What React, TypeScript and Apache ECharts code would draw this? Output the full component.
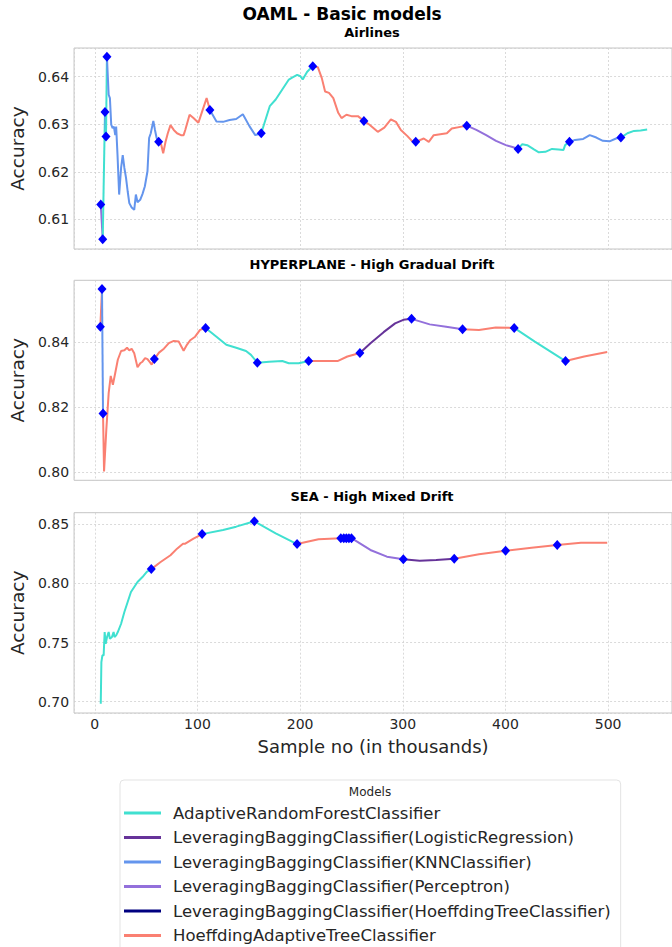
import React, { useEffect, useRef } from "react";
import * as echarts from "echarts";

const MODEL_NAMES = [
  "AdaptiveRandomForestClassifier",
  "LeveragingBaggingClassifier(LogisticRegression)",
  "LeveragingBaggingClassifier(KNNClassifier)",
  "LeveragingBaggingClassifier(Perceptron)",
  "LeveragingBaggingClassifier(HoeffdingTreeClassifier)",
  "HoeffdingAdaptiveTreeClassifier",
];
const MODEL_COLORS = ["#40E0D0", "#663399", "#6495ED", "#9370DB", "#000080", "#FA8072"];

const PANEL_TITLES = ["Airlines", "HYPERPLANE - High Gradual Drift", "SEA - High Mixed Drift"];

// ---- Airlines ----
const airlinesX = [
  5.8, 7.7, 9.9, 10.9, 11.8, 13.5, 14.7, 16.0, 17.3, 18.6, 19.9, 20.8, 22.1, 23.7, 25.6, 27.2, 28.8, 30.4,
  32.0, 33.6, 35.9, 38.4, 40.0, 41.6, 44.2, 46.4, 48.7, 51.3, 52.9, 54.5, 57.0, 58.6, 60.2, 62.2, 64.7,
  66.6, 68.9, 71.1, 73.7, 76.9, 80.1, 83.9, 86.5, 88.1, 92.3, 96.1, 100.9, 104.1, 108.9, 112.1, 118.5,
  124.9, 131.3, 137.7, 144.2, 150.6, 156.3, 159.0, 162.1, 170.4, 176.2, 182.6, 189.0, 192.2, 197.1, 200.3,
  202.5, 206.7, 209.8, 212.3, 217.2, 221.1, 224.3, 228.1, 232.3, 237.1, 240.3, 245.1, 249.9, 256.3, 262.1,
  267.6, 275.6, 282.0, 288.4, 293.3, 298.1, 304.5, 309.3, 312.6, 320.4, 325.3, 330.1, 342.9, 347.7, 357.3,
  362.3, 371.6, 381.2, 390.8, 400.4, 406.8, 412.3, 416.4, 421.2, 427.7, 432.5, 438.9, 445.3, 451.7, 456.5,
  458.1, 462.3, 467.7, 475.7, 482.1, 488.5, 494.9, 501.3, 507.7, 512.4, 518.8, 525.2, 531.6, 538.0,
];
const airlinesY = [
  0.6131, 0.6058, 0.6326, 0.6274, 0.6442, 0.6362, 0.6355, 0.6299, 0.6292, 0.6295, 0.6277, 0.6295, 0.6236,
  0.6152, 0.6208, 0.6235, 0.6208, 0.6187, 0.6159, 0.6134, 0.6125, 0.612, 0.6152, 0.6136, 0.6141, 0.6153,
  0.6169, 0.6201, 0.6271, 0.6281, 0.6307, 0.6288, 0.6271, 0.6263, 0.6257, 0.6239, 0.6263, 0.6281, 0.6298,
  0.6288, 0.6281, 0.6277, 0.6277, 0.6288, 0.632, 0.6313, 0.6303, 0.6324, 0.6355, 0.633, 0.6306, 0.6305,
  0.6309, 0.6311, 0.6321, 0.6296, 0.6277, 0.6279, 0.6281, 0.6338, 0.6352, 0.6373, 0.6394, 0.6398, 0.6404,
  0.6401, 0.6394, 0.641, 0.6417, 0.6422, 0.642, 0.6397, 0.6369, 0.6366, 0.6355, 0.6324, 0.6313, 0.632,
  0.6317, 0.6317, 0.6307, 0.6299, 0.6284, 0.6293, 0.631, 0.6305, 0.6288, 0.6275, 0.6264, 0.6263, 0.627,
  0.6263, 0.6277, 0.6281, 0.6291, 0.6295, 0.6297, 0.6288, 0.6277, 0.6265, 0.6256, 0.6252, 0.6248, 0.6258,
  0.6256, 0.6247, 0.6241, 0.6242, 0.6248, 0.6247, 0.6246, 0.6256, 0.6263, 0.6267, 0.6269, 0.6277, 0.6272,
  0.6265, 0.6264, 0.627, 0.6272, 0.6281, 0.6286, 0.6287, 0.6289,
];
const airlinesSwitchX = [5.8, 7.7, 9.9, 10.9, 11.8, 62.2, 112.1, 162.1, 212.3, 262.1, 312.6, 362.3, 412.3, 462.3, 512.4];
const airlinesSwitchModel = [3, 0, 2, 0, 2, 5, 2, 0, 5, 5, 5, 3, 0, 2, 0];
const airlinesMarkX = [5.8, 7.7, 9.9, 10.9, 11.8, 62.2, 112.1, 162.1, 212.3, 262.1, 312.6, 362.3, 412.3, 462.3, 512.4];

// ---- HYPERPLANE ----
const hyperX = [
  5.4, 7.0, 8.0, 9.0, 11.2, 13.5, 15.5, 17.6, 19.9, 22.4, 25.6, 28.8, 31.4, 33.6, 35.9, 38.4, 41.6, 44.2,
  46.4, 49.0, 51.3, 53.8, 55.4, 58.0, 62.5, 67.3, 72.1, 76.9, 81.7, 86.5, 89.7, 92.9, 97.7, 102.5, 107.9,
  118.5, 128.1, 137.7, 147.3, 152.1, 158.3, 169.8, 182.6, 189.0, 198.6, 208.3, 221.1, 236.4, 246.0, 258.2,
  268.5, 281.3, 292.5, 300.5, 308.5, 326.2, 342.2, 358.2, 374.2, 390.5, 408.5, 428.6, 458.5, 476.7, 499.1,
];
const hyperY = [
  0.8448, 0.8564, 0.818, 0.8002, 0.813, 0.8243, 0.8296, 0.8269, 0.8305, 0.8346, 0.8373, 0.8375, 0.8383,
  0.8375, 0.838, 0.8366, 0.8323, 0.8335, 0.834, 0.8351, 0.8348, 0.8338, 0.8331, 0.8348, 0.8368, 0.838,
  0.8397, 0.8404, 0.8402, 0.8374, 0.8392, 0.8406, 0.8417, 0.8438, 0.8444, 0.8417, 0.8392, 0.8383, 0.8373,
  0.8361, 0.8337, 0.834, 0.8342, 0.8335, 0.8335, 0.8342, 0.8342, 0.8342, 0.8356, 0.8367, 0.8397, 0.8431,
  0.8458, 0.8469, 0.8472, 0.8455, 0.8448, 0.844, 0.8438, 0.8445, 0.8444, 0.8402, 0.8342, 0.8356, 0.837,
];
const hyperSwitchX = [5.4, 7.0, 8.0, 58.0, 107.9, 158.3, 208.3, 258.2, 308.5, 358.2, 408.5, 458.5];
const hyperSwitchModel = [5, 2, 5, 5, 0, 0, 5, 1, 3, 5, 0, 5];
const hyperMarkX = [5.4, 7.0, 8.0, 58.0, 107.9, 158.3, 208.3, 258.2, 308.5, 358.2, 408.5, 458.5];

// ---- SEA ----
const seaX = [
  5.8, 6.4, 7.4, 8.6, 9.6, 10.6, 11.9, 13.5, 14.7, 16.7, 18.3, 19.2, 20.8, 22.4, 25.6, 28.8, 32.0, 35.2,
  38.4, 41.6, 46.4, 50.6, 55.0, 64.1, 73.7, 80.1, 85.9, 88.1, 96.1, 104.5, 124.9, 137.7, 155.4, 176.2,
  197.0, 217.9, 239.6, 242.5, 245.0, 247.5, 250.0, 268.4, 284.5, 300.5, 316.5, 332.5, 350.1, 374.2, 400.1,
  425.4, 450.4, 473.5, 499.1,
];
const seaY = [
  0.6982, 0.7335, 0.7392, 0.7392, 0.7589, 0.749, 0.7547, 0.7589, 0.7532, 0.7547, 0.7589, 0.7547, 0.7561,
  0.7589, 0.7659, 0.7758, 0.7843, 0.7927, 0.797, 0.8012, 0.8054, 0.8097, 0.8121, 0.8181, 0.8238, 0.8294,
  0.8336, 0.8336, 0.8378, 0.8417, 0.8452, 0.848, 0.8525, 0.8424, 0.8333, 0.8373, 0.8382, 0.8382, 0.8383,
  0.8383, 0.8383, 0.8283, 0.8226, 0.8204, 0.8192, 0.8198, 0.8209, 0.8246, 0.8277, 0.8302, 0.8325, 0.8344,
  0.8344,
];
const seaSwitchX = [5.8, 55.0, 104.5, 155.4, 197.0, 239.6, 242.5, 245.0, 247.5, 250.0, 300.5, 350.1, 400.1, 450.4];
const seaSwitchModel = [0, 5, 0, 0, 5, 0, 5, 0, 5, 3, 1, 5, 5, 5];
const seaMarkX = [55.0, 104.5, 155.4, 197.0, 239.6, 242.5, 245.0, 247.5, 250.0, 300.5, 350.1, 400.1, 450.4];

const PANELS = [
  { xs: airlinesX, ys: airlinesY, sw: airlinesSwitchX, sm: airlinesSwitchModel, mk: airlinesMarkX },
  { xs: hyperX, ys: hyperY, sw: hyperSwitchX, sm: hyperSwitchModel, mk: hyperMarkX },
  { xs: seaX, ys: seaY, sw: seaSwitchX, sm: seaSwitchModel, mk: seaMarkX },
];

const FONT = "DejaVu Sans";

export default function App() {
  const ref = useRef<HTMLDivElement>(null);
  useEffect(() => {
    if (!ref.current) return;
    const chart = echarts.init(ref.current, undefined, { renderer: "svg" });

    const gridTops = [48, 280.3, 512.7];
    const gridHeights = [201, 200, 200.3];
    const yRanges = [
      [0.60375, 0.64604, 0.01],
      [0.79745, 0.85908, 0.02],
      [0.69044, 0.8598, 0.05],
    ];
    const xMin = -20.2;
    const xMax = 562.2;

    const grids = gridTops.map((t, i) => ({
      left: 69,
      top: t,
      width: 606,
      height: gridHeights[i],
      show: true,
      borderColor: "#c4c4c4",
      borderWidth: 1,
      backgroundColor: "#ffffff",
    }));

    const xAxes = [0, 1, 2].map((i) => ({
      type: "value",
      gridIndex: i,
      min: xMin,
      max: xMax,
      minInterval: 100,
      maxInterval: 100,
      splitNumber: 5,
      axisLine: { show: false },
      axisTick: { show: false },
      splitLine: { show: true, lineStyle: { color: "#d0d0d0", type: [2, 2], width: 0.8 } },
      axisLabel: {
        show: i === 2,
        showMinLabel: false,
        showMaxLabel: false,
        fontSize: 14,
        fontFamily: FONT,
        color: "#262626",
        margin: 4,
      },
      name: i === 2 ? "Sample no (in thousands)" : "",
      nameLocation: "middle",
      nameGap: 24,
      nameTextStyle: { fontSize: 18, fontFamily: FONT, color: "#262626" },
    }));

    const yAxes = [0, 1, 2].map((i) => ({
      type: "value",
      gridIndex: i,
      min: yRanges[i][0],
      max: yRanges[i][1],
      minInterval: yRanges[i][2],
      maxInterval: yRanges[i][2],
      splitNumber: 4,
      axisLine: { show: false },
      axisTick: { show: false },
      splitLine: { show: true, lineStyle: { color: "#d0d0d0", type: [2, 2], width: 0.8 } },
      axisLabel: {
        showMinLabel: false,
        showMaxLabel: false,
        fontSize: 14,
        fontFamily: FONT,
        color: "#262626",
        margin: 5,
        formatter: (v: number) => v.toFixed(2),
      },
      name: "Accuracy",
      nameLocation: "middle",
      nameGap: 44,
      nameTextStyle: { fontSize: 18.5, fontFamily: FONT, color: "#262626" },
    }));

    const series: any[] = [];
    PANELS.forEach((p, pi) => {
      const pts = p.xs.map((x, k) => [x, p.ys[k]]);
      p.sw.forEach((sx, k) => {
        const ex = k + 1 < p.sw.length ? p.sw[k + 1] : Infinity;
        const data = pts.filter((d) => d[0] >= sx && d[0] <= ex);
        const m = p.sm[k];
        series.push({
          type: "line",
          name: MODEL_NAMES[m],
          xAxisIndex: pi,
          yAxisIndex: pi,
          data,
          color: MODEL_COLORS[m],
          showSymbol: false,
          symbol: "none",
          lineStyle: { width: 2, color: MODEL_COLORS[m] },
          z: 2,
        });
      });
      const marks = p.mk.map((mx) => {
        const k = p.xs.indexOf(mx);
        return [mx, p.ys[k]];
      });
      series.push({
        type: "scatter",
        xAxisIndex: pi,
        yAxisIndex: pi,
        data: marks,
        symbol: "diamond",
        symbolSize: [9, 10],
        itemStyle: { color: "#0000ff", opacity: 1 },
        z: 4,
      });
    });
    // ensure every model appears in legend
    MODEL_NAMES.forEach((n, m) => {
      series.push({
        type: "line",
        name: n,
        xAxisIndex: 0,
        yAxisIndex: 0,
        data: [],
        color: MODEL_COLORS[m],
        showSymbol: false,
        lineStyle: { width: 2, color: MODEL_COLORS[m] },
      });
    });

    const graphics: any[] = [
      {
        type: "text",
        x: 342,
        y: 14,
        style: {
          text: "OAML - Basic models",
          fontSize: 17,
          fontWeight: "bold",
          fontFamily: FONT,
          fill: "#000",
          textAlign: "center",
          textVerticalAlign: "middle",
        },
      },
      ...PANEL_TITLES.map((t, i) => ({
        type: "text",
        x: 372,
        y: [32.5, 264.3, 496.7][i],
        style: {
          text: t,
          fontSize: 13,
          fontWeight: "bold",
          fontFamily: FONT,
          fill: "#000",
          textAlign: "center",
          textVerticalAlign: "middle",
        },
      })),
      {
        type: "text",
        x: 370,
        y: 792,
        z: 100,
        style: {
          text: "Models",
          fontSize: 12,
          fontFamily: FONT,
          fill: "#262626",
          textAlign: "center",
          textVerticalAlign: "middle",
        },
      },
    ];

    chart.setOption({
      animation: false,
      backgroundColor: "#ffffff",
      grid: grids,
      xAxis: xAxes,
      yAxis: yAxes,
      series,
      legend: {
        data: MODEL_NAMES,
        orient: "vertical",
        left: 120,
        top: 780,
        height: 220,
        padding: [24, 10, 8, 4],
        itemGap: 6.5,
        itemWidth: 37,
        itemHeight: 3,
        icon: "rect",
        selectedMode: false,
        backgroundColor: "rgba(255,255,255,0.85)",
        borderColor: "#e3e3e3",
        borderWidth: 1,
        borderRadius: 4,
        textStyle: {
          fontSize: 16.5,
          lineHeight: 18,
          fontFamily: FONT,
          color: "#262626",
          padding: [0, 0, 0, 7],
        },
      },
      graphic: graphics,
    });
    return () => chart.dispose();
  }, []);
  return (
    <div
      ref={ref}
      style={{ position: "absolute", left: 0, top: 0, width: 672, height: 947, background: "#fff" }}
    />
  );
}
